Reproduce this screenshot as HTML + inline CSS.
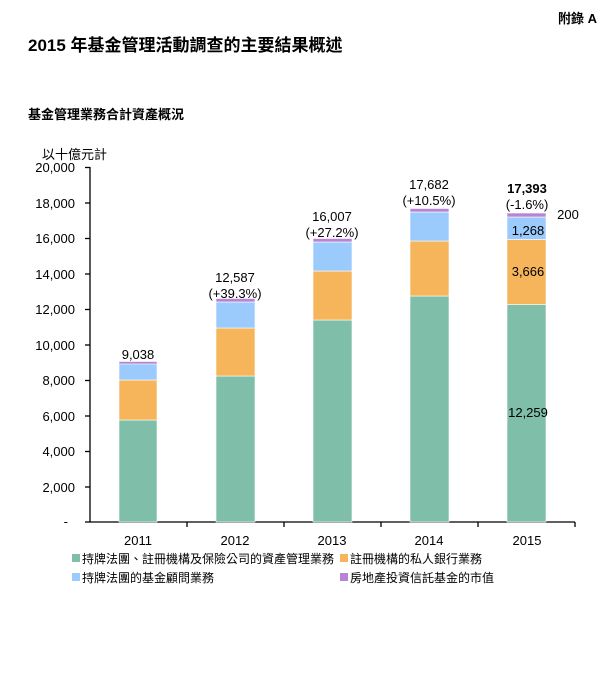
<!DOCTYPE html>
<html><head><meta charset="utf-8"><style>
html,body{margin:0;padding:0;background:#fff;}
svg{display:block;font-family:"Liberation Sans","Noto Sans CJK TC",sans-serif;}
</style></head><body>
<svg width="607" height="700" viewBox="0 0 607 700" xmlns="http://www.w3.org/2000/svg">
<text x="597" y="23" font-size="13" font-weight="bold" text-anchor="end">附錄 A</text>
<text x="28" y="51" font-size="17" font-weight="bold">2015 年基金管理活動調查的主要結果概述</text>
<text x="28" y="119" font-size="13" font-weight="bold">基金管理業務合計資產概況</text>
<text x="42" y="159" font-size="13">以十億元計</text>
<g font-size="13" text-anchor="end">
<text x="75" y="172">20,000</text><text x="75" y="208">18,000</text><text x="75" y="243">16,000</text>
<text x="75" y="279">14,000</text><text x="75" y="314">12,000</text><text x="75" y="350">10,000</text>
<text x="75" y="385">8,000</text><text x="75" y="421">6,000</text><text x="75" y="456">4,000</text>
<text x="75" y="492">2,000</text><text x="68" y="526">-</text>
</g>
<g stroke="#000" stroke-width="1.3">
<line x1="90" y1="167" x2="90" y2="522"/>
<line x1="90" y1="522" x2="575" y2="522"/>
<line x1="85" y1="167.5" x2="90" y2="167.5"/><line x1="85" y1="203" x2="90" y2="203"/>
<line x1="85" y1="238.5" x2="90" y2="238.5"/><line x1="85" y1="274" x2="90" y2="274"/>
<line x1="85" y1="309.5" x2="90" y2="309.5"/><line x1="85" y1="345" x2="90" y2="345"/>
<line x1="85" y1="380.5" x2="90" y2="380.5"/><line x1="85" y1="416" x2="90" y2="416"/>
<line x1="85" y1="451.5" x2="90" y2="451.5"/><line x1="85" y1="487" x2="90" y2="487"/>
<line x1="85" y1="522" x2="90" y2="522"/>
<line x1="187" y1="522" x2="187" y2="527"/><line x1="284" y1="522" x2="284" y2="527"/>
<line x1="381" y1="522" x2="381" y2="527"/><line x1="478" y1="522" x2="478" y2="527"/>
<line x1="575" y1="522" x2="575" y2="527"/>
</g>
<g stroke="#fff" stroke-width="0.6">
<!-- 2011 -->
<rect x="119" y="420" width="38" height="102" fill="#7fbea8"/>
<rect x="119" y="380" width="38" height="40" fill="#f6b55a"/>
<rect x="119" y="363" width="38" height="17" fill="#9bcbfd"/>
<rect x="119" y="361.5" width="38" height="2.5" fill="#b884d6"/>
<!-- 2012 -->
<rect x="216" y="376" width="39" height="146" fill="#7fbea8"/>
<rect x="216" y="328" width="39" height="48" fill="#f6b55a"/>
<rect x="216" y="302" width="39" height="26" fill="#9bcbfd"/>
<rect x="216" y="298.5" width="39" height="3.5" fill="#b884d6"/>
<!-- 2013 -->
<rect x="313" y="320" width="39" height="202" fill="#7fbea8"/>
<rect x="313" y="271" width="39" height="49" fill="#f6b55a"/>
<rect x="313" y="242" width="39" height="29" fill="#9bcbfd"/>
<rect x="313" y="238.5" width="39" height="3.5" fill="#b884d6"/>
<!-- 2014 -->
<rect x="410" y="296" width="39" height="226" fill="#7fbea8"/>
<rect x="410" y="241" width="39" height="55" fill="#f6b55a"/>
<rect x="410" y="212" width="39" height="29" fill="#9bcbfd"/>
<rect x="410" y="208.5" width="39" height="3.5" fill="#b884d6"/>
<!-- 2015 -->
<rect x="507" y="304.5" width="39" height="217.5" fill="#7fbea8"/>
<rect x="507" y="239.5" width="39" height="65" fill="#f6b55a"/>
<rect x="507" y="217" width="39" height="22.5" fill="#9bcbfd"/>
<rect x="507" y="213" width="39" height="4" fill="#b884d6"/>
</g>
<g font-size="13" text-anchor="middle">
<text x="138" y="359">9,038</text>
<text x="235" y="282">12,587</text><text x="235" y="298">(+39.3%)</text>
<text x="332" y="221">16,007</text><text x="332" y="237">(+27.2%)</text>
<text x="429" y="189">17,682</text><text x="429" y="205">(+10.5%)</text>
<text x="527" y="193" font-weight="bold">17,393</text><text x="527" y="209">(-1.6%)</text>
<text x="528" y="235">1,268</text>
<text x="528" y="276">3,666</text>
<text x="528" y="417">12,259</text>
<text x="568" y="219">200</text>
<text x="138" y="545">2011</text><text x="235" y="545">2012</text><text x="332" y="545">2013</text>
<text x="429" y="545">2014</text><text x="527" y="545">2015</text>
</g>
<g font-size="12">
<rect x="72" y="554" width="8" height="8" fill="#7fbea8"/>
<text x="82" y="563">持牌法團、註冊機構及保險公司的資產管理業務</text>
<rect x="340" y="554" width="8" height="8" fill="#f6b55a"/>
<text x="350" y="563">註冊機構的私人銀行業務</text>
<rect x="72" y="573" width="8" height="8" fill="#9bcbfd"/>
<text x="82" y="582">持牌法團的基金顧問業務</text>
<rect x="340" y="573" width="8" height="8" fill="#b884d6"/>
<text x="350" y="582">房地產投資信託基金的市值</text>
</g>
</svg>
</body></html>
